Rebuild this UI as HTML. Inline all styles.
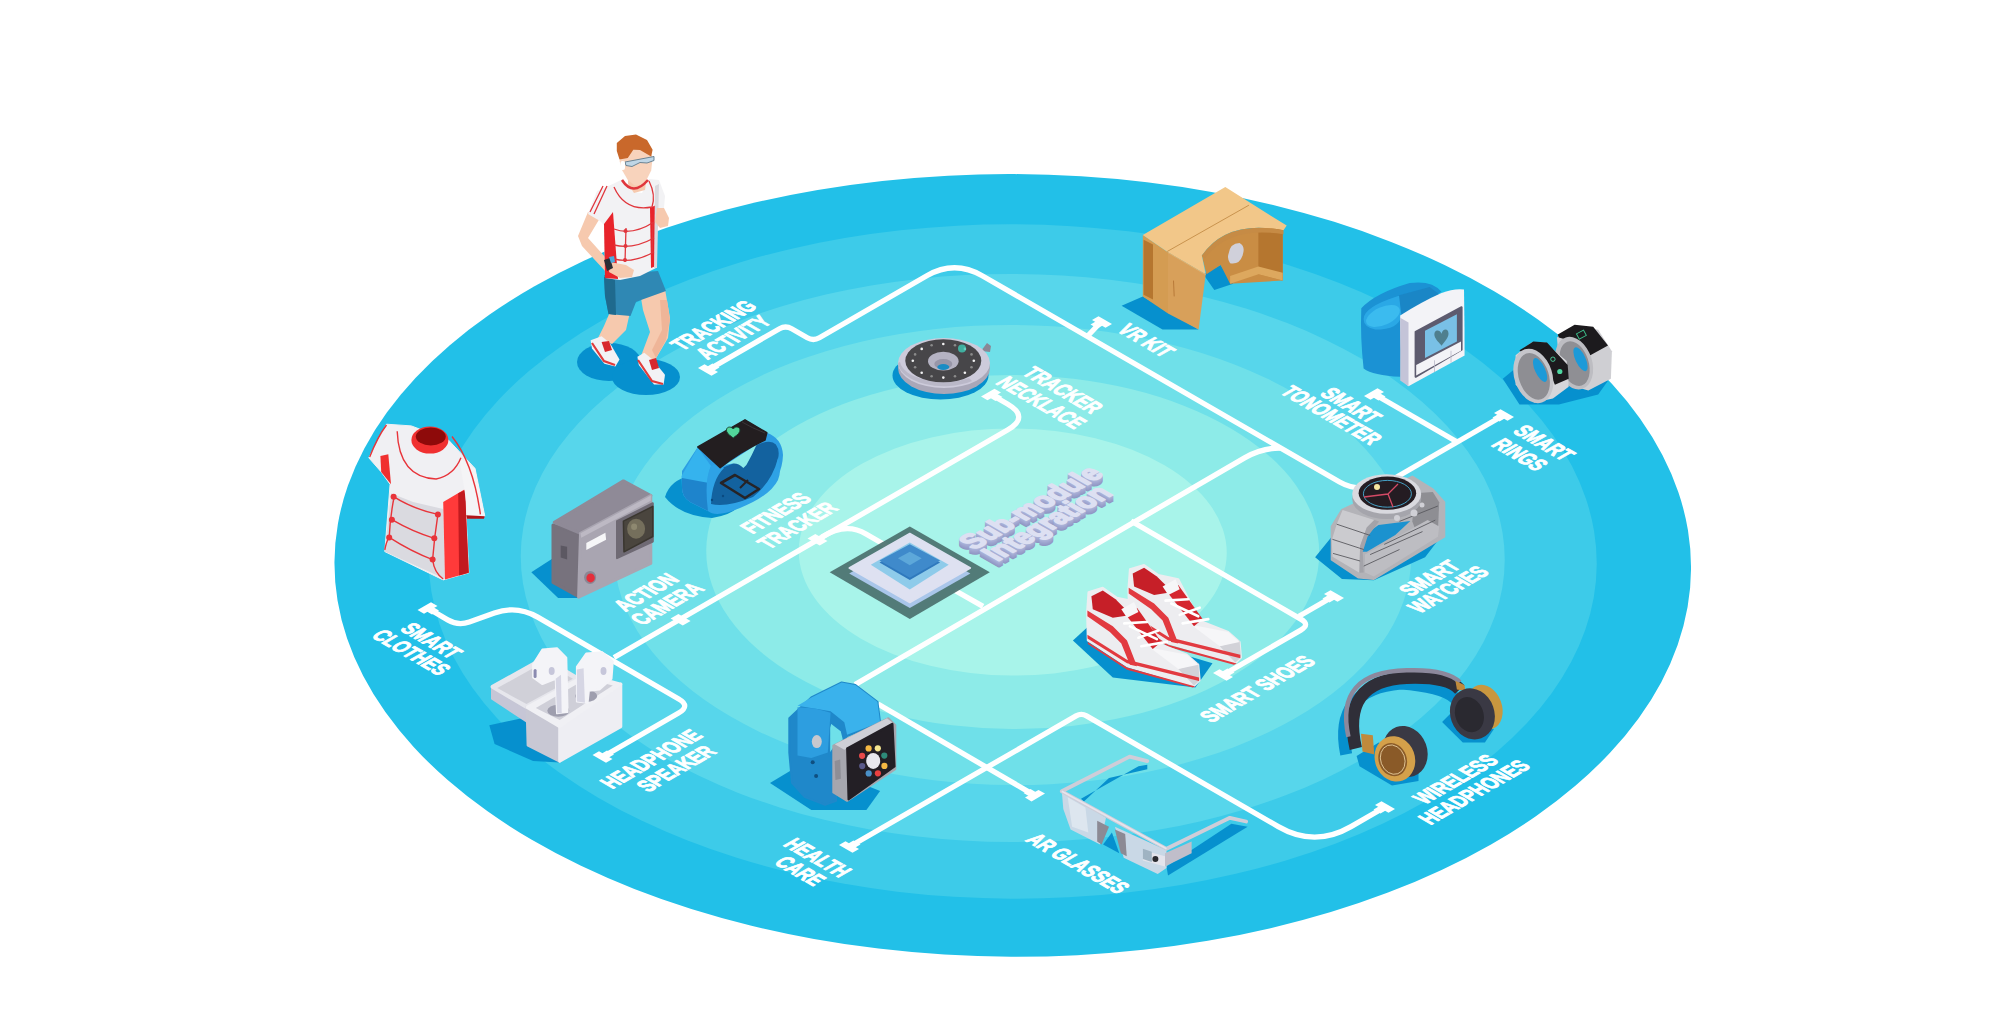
<!DOCTYPE html><html><head><meta charset="utf-8"><style>html,body{margin:0;padding:0;background:#fff;overflow:hidden}svg{display:block}</style></head><body>
<svg width="2000" height="1017" viewBox="0 0 2000 1017" style="font-family:'Liberation Sans', sans-serif">
<rect width="2000" height="1017" fill="#fff"/>
<ellipse cx="1012.75" cy="565.4" rx="678.3" ry="391.3" fill="#22C0E8" transform="rotate(0.28 1012.75 565.4)"/>
<ellipse cx="1012.75" cy="561.5" rx="584.0" ry="337.2" fill="#3DCBE9" transform="rotate(0.28 1012.75 561.5)"/>
<ellipse cx="1012.75" cy="558.0" rx="492.0" ry="284.1" fill="#57D6EB" transform="rotate(0.28 1012.75 558.0)"/>
<ellipse cx="1012.75" cy="555.0" rx="398.5" ry="230.1" fill="#6FE0E9" transform="rotate(0.28 1012.75 555.0)"/>
<ellipse cx="1012.75" cy="552.0" rx="306.5" ry="177.0" fill="#8DEBE8" transform="rotate(0.28 1012.75 552.0)"/>
<ellipse cx="1012.75" cy="552.0" rx="214.0" ry="123.6" fill="#A8F4EA" transform="rotate(0.28 1012.75 552.0)"/>
<g fill="none" stroke="#fff" stroke-width="5.3" stroke-linecap="butt" stroke-linejoin="round">
<path d="M708.0,370.0 L779.5,328.7 Q785.6,325.2 791.7,328.7 L807.3,337.7 Q813.3,341.2 819.4,337.7 L926.8,275.7 Q954.5,259.7 982.2,275.7 L1339.6,482.0 Q1350.0,488.0 1362.0,488.0 L1372.0,488.0"/>
<path d="M1087.0,336.8 L1098.0,325.0"/>
<path d="M1504.0,415.0 L1392.0,479.7"/>
<path d="M1374.0,394.0 L1457.2,442.0"/>
<path d="M855,684.6 L1245,457.6 Q1262,448 1280,448"/>
<path d="M991.0,394.5 L1007.5,404.0 Q1030.0,417.0 1007.5,430.0 L614.0,657.5"/>
<path d="M822,537 Q846,522 866,534 L892,549"/>
<path d="M955,590.5 L983,606.4"/>
<path d="M1131.0,521.0 L1300.8,619.1 Q1310.4,624.6 1300.8,630.1 L1223.0,675.0"/>
<path d="M1334.0,596.0 L1299.0,616.2"/>
<path d="M849.0,847.0 L1076.1,715.9 Q1081.3,712.9 1086.5,715.9 L1278.3,826.6 Q1314.6,847.6 1351.0,826.6 L1385.0,807.0"/>
<path d="M878,704 L1035,795.6"/>
<path d="M427.5,608.0 L447.7,619.9 Q458.0,626.0 469.3,622.0 L494.4,613.0 Q517.0,605.0 537.7,617.1 L678.7,699.0 Q690.8,706.0 678.6,713.0 L602.5,757.0"/>
</g><g fill="#fff">
<path d="M698.0,368.0 L704.5,364.2 L718.0,372.0 L711.5,375.8Z"/><path d="M707.4,366.4 L712.5,363.4 L719.5,367.4 L714.3,370.4Z"/>
<path d="M1098.5,316.2 L1092.0,320.0 L1105.5,327.8 L1112.0,324.0Z"/><path d="M1095.7,321.6 L1090.5,324.6 L1097.5,328.6 L1102.6,325.6Z"/>
<path d="M1500.5,409.2 L1494.0,413.0 L1507.5,420.8 L1514.0,417.0Z"/><path d="M1497.7,414.6 L1492.5,417.6 L1499.5,421.6 L1504.6,418.6Z"/>
<path d="M1377.5,388.2 L1384.0,392.0 L1370.5,399.8 L1364.0,396.0Z"/><path d="M1380.3,393.6 L1385.5,396.6 L1378.5,400.6 L1373.4,397.6Z"/>
<path d="M994.5,388.8 L1001.0,392.5 L987.5,400.2 L981.0,396.5Z"/><path d="M997.3,394.1 L1002.5,397.1 L995.5,401.1 L990.4,398.1Z"/>
<path d="M815.3,534.0 L807.5,538.5 L819.7,545.5 L827.5,541.0Z"/>
<path d="M678.4,614.0 L670.6,618.5 L682.8,625.5 L690.6,621.0Z"/>
<path d="M1213.0,673.0 L1219.5,669.2 L1233.0,677.0 L1226.5,680.8Z"/><path d="M1222.4,671.4 L1227.5,668.4 L1234.5,672.4 L1229.3,675.4Z"/>
<path d="M1330.5,590.2 L1324.0,594.0 L1337.5,601.8 L1344.0,598.0Z"/><path d="M1327.7,595.6 L1322.5,598.6 L1329.5,602.6 L1334.6,599.6Z"/>
<path d="M839.0,845.0 L845.5,841.2 L859.0,849.0 L852.5,852.8Z"/><path d="M848.4,843.4 L853.5,840.4 L860.5,844.4 L855.3,847.4Z"/>
<path d="M1381.5,801.2 L1375.0,805.0 L1388.5,812.8 L1395.0,809.0Z"/><path d="M1378.7,806.6 L1373.5,809.6 L1380.5,813.6 L1385.6,810.6Z"/>
<path d="M1045.0,793.6 L1038.5,789.9 L1025.0,797.6 L1031.5,801.4Z"/><path d="M1035.6,792.0 L1030.5,789.0 L1023.5,793.0 L1028.7,796.0Z"/>
<path d="M431.0,602.2 L437.5,606.0 L424.0,613.8 L417.5,610.0Z"/><path d="M433.8,607.6 L439.0,610.6 L432.0,614.6 L426.9,611.6Z"/>
<path d="M592.5,755.0 L599.0,751.2 L612.5,759.0 L606.0,762.8Z"/><path d="M601.9,753.4 L607.0,750.4 L614.0,754.4 L608.8,757.4Z"/>
</g>
<g>
<g transform="matrix(0.866,-0.5,0.866,0.5,713.1,325.0)"><text transform="scale(0.720,1)" x="0" y="8.4" text-anchor="middle" font-size="23" font-weight="bold" fill="#fff" stroke="#fff" stroke-width="1.1" stroke-linejoin="round">TRACKING</text></g>
<g transform="matrix(0.866,-0.5,0.866,0.5,732.8,337.0)"><text transform="scale(0.720,1)" x="0" y="8.4" text-anchor="middle" font-size="23" font-weight="bold" fill="#fff" stroke="#fff" stroke-width="1.1" stroke-linejoin="round">ACTIVITY</text></g>
<g transform="matrix(0.866,0.5,-0.866,0.5,1063.4,389.7)"><text transform="scale(0.720,1)" x="0" y="8.4" text-anchor="middle" font-size="23" font-weight="bold" fill="#fff" stroke="#fff" stroke-width="1.1" stroke-linejoin="round">TRACKER</text></g>
<g transform="matrix(0.866,0.5,-0.866,0.5,1041.9,402.3)"><text transform="scale(0.720,1)" x="0" y="8.4" text-anchor="middle" font-size="23" font-weight="bold" fill="#fff" stroke="#fff" stroke-width="1.1" stroke-linejoin="round">NECKLACE</text></g>
<g transform="matrix(0.866,0.5,-0.866,0.5,1146.6,340.1)"><text transform="scale(0.720,1)" x="0" y="8.4" text-anchor="middle" font-size="23" font-weight="bold" fill="#fff" stroke="#fff" stroke-width="1.1" stroke-linejoin="round">VR KIT</text></g>
<g transform="matrix(0.866,0.5,-0.866,0.5,1351.4,405.0)"><text transform="scale(0.720,1)" x="0" y="8.4" text-anchor="middle" font-size="23" font-weight="bold" fill="#fff" stroke="#fff" stroke-width="1.1" stroke-linejoin="round">SMART</text></g>
<g transform="matrix(0.866,0.5,-0.866,0.5,1331.8,414.8)"><text transform="scale(0.720,1)" x="0" y="8.4" text-anchor="middle" font-size="23" font-weight="bold" fill="#fff" stroke="#fff" stroke-width="1.1" stroke-linejoin="round">TONOMETER</text></g>
<g transform="matrix(0.866,0.5,-0.866,0.5,1544.5,442.5)"><text transform="scale(0.720,1)" x="0" y="8.4" text-anchor="middle" font-size="23" font-weight="bold" fill="#fff" stroke="#fff" stroke-width="1.1" stroke-linejoin="round">SMART</text></g>
<g transform="matrix(0.866,0.5,-0.866,0.5,1520.3,454.3)"><text transform="scale(0.720,1)" x="0" y="8.4" text-anchor="middle" font-size="23" font-weight="bold" fill="#fff" stroke="#fff" stroke-width="1.1" stroke-linejoin="round">RINGS</text></g>
<g transform="matrix(0.866,-0.5,0.866,0.5,775.4,512.7)"><text transform="scale(0.720,1)" x="0" y="8.4" text-anchor="middle" font-size="23" font-weight="bold" fill="#fff" stroke="#fff" stroke-width="1.1" stroke-linejoin="round">FITNESS</text></g>
<g transform="matrix(0.866,-0.5,0.866,0.5,797.0,525.0)"><text transform="scale(0.720,1)" x="0" y="8.4" text-anchor="middle" font-size="23" font-weight="bold" fill="#fff" stroke="#fff" stroke-width="1.1" stroke-linejoin="round">TRACKER</text></g>
<g transform="matrix(0.866,-0.5,0.866,0.5,645.6,591.9)"><text transform="scale(0.720,1)" x="0" y="8.4" text-anchor="middle" font-size="23" font-weight="bold" fill="#fff" stroke="#fff" stroke-width="1.1" stroke-linejoin="round">ACTION</text></g>
<g transform="matrix(0.866,-0.5,0.866,0.5,666.7,603.5)"><text transform="scale(0.720,1)" x="0" y="8.4" text-anchor="middle" font-size="23" font-weight="bold" fill="#fff" stroke="#fff" stroke-width="1.1" stroke-linejoin="round">CAMERA</text></g>
<g transform="matrix(0.866,0.5,-0.866,0.5,431.8,640.3)"><text transform="scale(0.720,1)" x="0" y="8.4" text-anchor="middle" font-size="23" font-weight="bold" fill="#fff" stroke="#fff" stroke-width="1.1" stroke-linejoin="round">SMART</text></g>
<g transform="matrix(0.866,0.5,-0.866,0.5,411.7,652.1)"><text transform="scale(0.720,1)" x="0" y="8.4" text-anchor="middle" font-size="23" font-weight="bold" fill="#fff" stroke="#fff" stroke-width="1.1" stroke-linejoin="round">CLOTHES</text></g>
<g transform="matrix(0.866,-0.5,0.866,0.5,650.8,758.7)"><text transform="scale(0.720,1)" x="0" y="8.4" text-anchor="middle" font-size="23" font-weight="bold" fill="#fff" stroke="#fff" stroke-width="1.1" stroke-linejoin="round">HEADPHONE</text></g>
<g transform="matrix(0.866,-0.5,0.866,0.5,675.8,768.2)"><text transform="scale(0.720,1)" x="0" y="8.4" text-anchor="middle" font-size="23" font-weight="bold" fill="#fff" stroke="#fff" stroke-width="1.1" stroke-linejoin="round">SPEAKER</text></g>
<g transform="matrix(0.866,0.5,-0.866,0.5,818.0,857.4)"><text transform="scale(0.720,1)" x="0" y="8.4" text-anchor="middle" font-size="23" font-weight="bold" fill="#fff" stroke="#fff" stroke-width="1.1" stroke-linejoin="round">HEALTH</text></g>
<g transform="matrix(0.866,0.5,-0.866,0.5,800.5,870.7)"><text transform="scale(0.720,1)" x="0" y="8.4" text-anchor="middle" font-size="23" font-weight="bold" fill="#fff" stroke="#fff" stroke-width="1.1" stroke-linejoin="round">CARE</text></g>
<g transform="matrix(0.866,0.5,-0.866,0.5,1078.3,863.2)"><text transform="scale(0.720,1)" x="0" y="8.4" text-anchor="middle" font-size="23" font-weight="bold" fill="#fff" stroke="#fff" stroke-width="1.1" stroke-linejoin="round">AR GLASSES</text></g>
<g transform="matrix(0.866,-0.5,0.866,0.5,1429.1,577.8)"><text transform="scale(0.720,1)" x="0" y="8.4" text-anchor="middle" font-size="23" font-weight="bold" fill="#fff" stroke="#fff" stroke-width="1.1" stroke-linejoin="round">SMART</text></g>
<g transform="matrix(0.866,-0.5,0.866,0.5,1447.8,589.2)"><text transform="scale(0.720,1)" x="0" y="8.4" text-anchor="middle" font-size="23" font-weight="bold" fill="#fff" stroke="#fff" stroke-width="1.1" stroke-linejoin="round">WATCHES</text></g>
<g transform="matrix(0.866,-0.5,0.866,0.5,1257.0,688.5)"><text transform="scale(0.720,1)" x="0" y="8.4" text-anchor="middle" font-size="23" font-weight="bold" fill="#fff" stroke="#fff" stroke-width="1.1" stroke-linejoin="round">SMART SHOES</text></g>
<g transform="matrix(0.866,-0.5,0.866,0.5,1455.0,779.0)"><text transform="scale(0.720,1)" x="0" y="8.4" text-anchor="middle" font-size="23" font-weight="bold" fill="#fff" stroke="#fff" stroke-width="1.1" stroke-linejoin="round">WIRELESS</text></g>
<g transform="matrix(0.866,-0.5,0.866,0.5,1473.7,791.9)"><text transform="scale(0.720,1)" x="0" y="8.4" text-anchor="middle" font-size="23" font-weight="bold" fill="#fff" stroke="#fff" stroke-width="1.1" stroke-linejoin="round">HEADPHONES</text></g>
</g>
<path d="M829.7,572.3 L909.8,526.4 L989.8,572.3 L909.8,618.9Z" fill="#4B706E" opacity="0.92"/>
<path d="M849.2,573.4 L909.8,538.8 L970.4,573.4 L909.8,608.0Z" fill="#A9C6EA"/>
<path d="M849.2,568.0 L909.8,533.4 L970.4,568.0 L909.8,602.6Z" fill="#DEE1F1" stroke="#DEE1F1" stroke-width="1.5" stroke-linejoin="round"/>
<path d="M870.8,564.8 L909.8,542.6 L948.7,564.8 L909.8,589.6Z" fill="#8ECBEA"/>
<path d="M879.5,562.6 L909.8,546.4 L940.1,562.6 L909.8,579.9Z" fill="#2F79BD"/>
<path d="M879.5,560.4 L909.8,544.2 L940.1,560.4 L909.8,577.7Z" fill="#3F8ACB"/>
<path d="M897.9,558.3 L909.8,551.8 L921.7,558.3 L909.8,565.3Z" fill="#5DA8DA"/>
<g transform="matrix(0.866,-0.5,0.866,0.5,1030.0,513.0)"><text transform="scale(0.87,1)" x="0" y="11" text-anchor="middle" font-size="30" font-weight="bold" fill="#9097C4" stroke="#9097C4" stroke-width="2.0" stroke-linejoin="round">Sub-module</text></g>
<g transform="matrix(0.866,-0.5,0.866,0.5,1046.0,528.5)"><text transform="scale(0.87,1)" x="0" y="11" text-anchor="middle" font-size="30" font-weight="bold" fill="#9097C4" stroke="#9097C4" stroke-width="2.0" stroke-linejoin="round">Integration</text></g>
<g transform="matrix(0.866,-0.5,0.866,0.5,1030.0,512.0)"><text transform="scale(0.87,1)" x="0" y="11" text-anchor="middle" font-size="30" font-weight="bold" fill="#959CC8" stroke="#959CC8" stroke-width="2.0" stroke-linejoin="round">Sub-module</text></g>
<g transform="matrix(0.866,-0.5,0.866,0.5,1046.0,527.5)"><text transform="scale(0.87,1)" x="0" y="11" text-anchor="middle" font-size="30" font-weight="bold" fill="#959CC8" stroke="#959CC8" stroke-width="2.0" stroke-linejoin="round">Integration</text></g>
<g transform="matrix(0.866,-0.5,0.866,0.5,1030.0,511.0)"><text transform="scale(0.87,1)" x="0" y="11" text-anchor="middle" font-size="30" font-weight="bold" fill="#9AA1CC" stroke="#9AA1CC" stroke-width="2.0" stroke-linejoin="round">Sub-module</text></g>
<g transform="matrix(0.866,-0.5,0.866,0.5,1046.0,526.5)"><text transform="scale(0.87,1)" x="0" y="11" text-anchor="middle" font-size="30" font-weight="bold" fill="#9AA1CC" stroke="#9AA1CC" stroke-width="2.0" stroke-linejoin="round">Integration</text></g>
<g transform="matrix(0.866,-0.5,0.866,0.5,1030.0,510.0)"><text transform="scale(0.87,1)" x="0" y="11" text-anchor="middle" font-size="30" font-weight="bold" fill="#9FA6D0" stroke="#9FA6D0" stroke-width="2.0" stroke-linejoin="round">Sub-module</text></g>
<g transform="matrix(0.866,-0.5,0.866,0.5,1046.0,525.5)"><text transform="scale(0.87,1)" x="0" y="11" text-anchor="middle" font-size="30" font-weight="bold" fill="#9FA6D0" stroke="#9FA6D0" stroke-width="2.0" stroke-linejoin="round">Integration</text></g>
<g transform="matrix(0.866,-0.5,0.866,0.5,1030.0,509.0)"><text transform="scale(0.87,1)" x="0" y="11" text-anchor="middle" font-size="30" font-weight="bold" fill="#A5ACD4" stroke="#A5ACD4" stroke-width="2.0" stroke-linejoin="round">Sub-module</text></g>
<g transform="matrix(0.866,-0.5,0.866,0.5,1046.0,524.5)"><text transform="scale(0.87,1)" x="0" y="11" text-anchor="middle" font-size="30" font-weight="bold" fill="#A5ACD4" stroke="#A5ACD4" stroke-width="2.0" stroke-linejoin="round">Integration</text></g>
<g transform="matrix(0.866,-0.5,0.866,0.5,1030.0,508.0)"><text transform="scale(0.87,1)" x="0" y="11" text-anchor="middle" font-size="30" font-weight="bold" fill="#ABB2D8" stroke="#ABB2D8" stroke-width="2.0" stroke-linejoin="round">Sub-module</text></g>
<g transform="matrix(0.866,-0.5,0.866,0.5,1046.0,523.5)"><text transform="scale(0.87,1)" x="0" y="11" text-anchor="middle" font-size="30" font-weight="bold" fill="#ABB2D8" stroke="#ABB2D8" stroke-width="2.0" stroke-linejoin="round">Integration</text></g>
<g transform="matrix(0.866,-0.5,0.866,0.5,1030.0,507.0)"><text transform="scale(0.87,1)" x="0" y="11" text-anchor="middle" font-size="30" font-weight="bold" fill="#DDE0F2" stroke="#DDE0F2" stroke-width="2.0" stroke-linejoin="round">Sub-module</text></g>
<g transform="matrix(0.866,-0.5,0.866,0.5,1046.0,522.5)"><text transform="scale(0.87,1)" x="0" y="11" text-anchor="middle" font-size="30" font-weight="bold" fill="#DDE0F2" stroke="#DDE0F2" stroke-width="2.0" stroke-linejoin="round">Integration</text></g>
<ellipse cx="940.5" cy="375.5" rx="48" ry="24" fill="#0690CE"/>
<path d="M981,351 L987,343 L991,346 L990,352Z" fill="#8A8896"/>
<ellipse cx="944" cy="368" rx="46" ry="26" fill="#A9A7B8"/>
<ellipse cx="944" cy="363" rx="46" ry="25" fill="#CDCBDB"/>
<path d="M898,363 A46,25 0 0,0 972,381 L969,378 A44,22 0 0,1 900,362Z" fill="#BAB8C8"/>
<ellipse cx="943.3" cy="360.8" rx="38" ry="21.5" fill="#474649"/>
<ellipse cx="943.3" cy="361.2" rx="15.3" ry="9.4" fill="#B5B3C3"/>
<ellipse cx="943.3" cy="364" rx="9" ry="5" fill="#9896A8"/>
<ellipse cx="943.3" cy="367" rx="6" ry="3" fill="#1A8CC4"/>
<circle cx="973.8" cy="360.8" r="1.3" fill="#F2F2F2"/>
<circle cx="971.5" cy="367.2" r="1.3" fill="#8A8A8A"/>
<circle cx="964.9" cy="372.7" r="1.3" fill="#F2F2F2"/>
<circle cx="955.0" cy="376.3" r="1.3" fill="#8A8A8A"/>
<circle cx="943.3" cy="377.6" r="1.3" fill="#F2F2F2"/>
<circle cx="931.6" cy="376.3" r="1.3" fill="#8A8A8A"/>
<circle cx="921.7" cy="372.7" r="1.3" fill="#F2F2F2"/>
<circle cx="915.1" cy="367.2" r="1.3" fill="#8A8A8A"/>
<circle cx="912.8" cy="360.8" r="1.3" fill="#F2F2F2"/>
<circle cx="915.1" cy="354.4" r="1.3" fill="#8A8A8A"/>
<circle cx="921.7" cy="348.9" r="1.3" fill="#F2F2F2"/>
<circle cx="931.6" cy="345.3" r="1.3" fill="#8A8A8A"/>
<circle cx="943.3" cy="344.0" r="1.3" fill="#F2F2F2"/>
<circle cx="955.0" cy="345.3" r="1.3" fill="#8A8A8A"/>
<circle cx="964.9" cy="348.9" r="1.3" fill="#F2F2F2"/>
<circle cx="971.5" cy="354.4" r="1.3" fill="#8A8A8A"/>
<circle cx="962" cy="348.6" r="4" fill="#3FC9B5" opacity="0.8"/>
<path d="M665,497 Q670,480 690,476 L712,482 L742,500 Q738,514 712,518 Q680,516 665,497Z" fill="#0690CE"/>
<path d="M682,471 L697.8,447 L745,419.8 L766.8,432.7 Q782,438 783,455 Q782,478 766,490 L731,509 Q716,514 708,511 L690,502 Q682,497 682,488Z" fill="#2C9DE3"/>
<path d="M681.5,476 L697.8,447.5 L711,466 Q705,480 708,511 L690,502 Q682,497 682,488Z" fill="#35B3EE"/>
<path d="M682,478 L709,483 L708,511 L690,502 Q682,497 682,488Z" fill="#1E84CC"/>
<path d="M709.5,488.7 Q712,470 731.6,464.3 L753.7,446.6 Q770,438 775.9,444.4 Q780,450 778.1,458 Q776,478 753.7,497.5 L727.9,506.4 Q714,508 711,504.2Z" fill="#13629F"/>
<path d="M720.6,468 L756.7,444.4 Q752,455 746.4,465.1 L743.4,468 Q738,463 733.1,463.6 Q726,464 720.6,468Z" fill="#8DEBE8"/>
<path d="M711,466 Q718,462 724,468 Q712,480 711,504 Q726,508 753,497 Q772,482 778,458 Q782,470 778,480 Q770,496 740,508 Q716,518 708,511 Q704,480 711,466Z" fill="#2EA2E6"/>
<path d="M697.8,446.9 L745,419.8 L766.8,432.7 L765,440 Q740,452 720.2,467.6Z" fill="#231E20" stroke="#231E20" stroke-width="1.5" stroke-linejoin="round"/>
<path d="M742,422 Q752,428 765,433" fill="none" stroke="#3A3538" stroke-width="1"/>
<path d="M733.2,429 c-2.5,-3.5 -8,-2 -6.5,2.5 c1,3 4.5,4.5 6.5,6.5 c2,-2 5.5,-3.5 6.5,-6.5 c1.5,-4.5 -4,-6 -6.5,-2.5z" fill="#52D69A" stroke="#163F30" stroke-width="0.9"/>
<path d="M721,483 L735,475 L759,489 L745,498Z" fill="none" stroke="#262326" stroke-width="2.6" stroke-linejoin="round"/>
<path d="M740,488 L748,480" stroke="#262326" stroke-width="2"/>
<circle cx="723" cy="496" r="1.2" fill="#0B4A80"/><circle cx="712" cy="500" r="1.2" fill="#0B4A80"/>
<path d="M531.3,572.3 L553.0,558.2 L579.9,597.9 L558.1,597.9Z" fill="#0690CE"/>
<path d="M553.0,525.0 L579.9,533.9 L578.6,596.6 L553.0,582.5Z" fill="#77727D" stroke="#77727D" stroke-width="3" stroke-linejoin="round"/>
<path d="M554.3,522.4 L623.4,480.9 L650.8,495.6 L580.5,533.3Z" fill="#8F8A97" stroke="#8F8A97" stroke-width="3" stroke-linejoin="round"/>
<path d="M580.5,533.3 L650.8,495.6 L650.8,563.4 L578.6,597.2Z" fill="#A9A5B1" stroke="#A9A5B1" stroke-width="3" stroke-linejoin="round"/>
<path d="M580.5,533.3 L650.8,495.6 L650.8,500.7 L581.2,537.8Z" fill="#BDB9C4"/>
<path d="M617.0,521.2 L652.8,503.2 L652.8,541.6 L617.0,558.2Z" fill="#6F6A74" stroke="#6F6A74" stroke-width="2" stroke-linejoin="round"/>
<path d="M623.4,521.2 L652.8,506.4 L652.8,536.5 L624.0,551.8Z" fill="#4A453E" stroke="#3A362F" stroke-width="1.5" stroke-linejoin="round"/>
<ellipse cx="636.1" cy="528.8" rx="9" ry="10" fill="#756F5C"/>
<ellipse cx="634.1" cy="526.8" rx="3" ry="3.2" fill="#8E8870"/>
<path d="M586.3,542.9 L605.4,532.7 L606.1,539.7 L586.3,549.9Z" fill="#F6F6F8"/>
<path d="M560.7,545.4 L567.1,546.7 L567.1,559.5 L560.7,557.6Z" fill="#5C5862"/>
<ellipse cx="590.1" cy="577.4" rx="6" ry="6.5" fill="#8B8794"/><ellipse cx="590.6" cy="577.9" rx="4.2" ry="4.5" fill="#E52E3A"/>
<path d="M386.5,424.2 L411.3,425.9 L448.5,440.1 L475.0,468.4 L484.8,516.2 L466.2,518.0 L468.8,572.8 L443.2,579.9 L384.8,551.6 L390.1,484.3 L381.2,471.9 L368.8,457.8Z" fill="#F0F0F3" stroke="#F0F0F3" stroke-width="1" stroke-linejoin="round"/>
<path d="M391.0,493.2 L413.1,502.0 L443.2,509.1 L445.0,579.0 L384.8,551.6Z" fill="#DADAE0"/>
<path d="M443.2,502.0 L464.4,489.6 L466.2,518.0 L468.8,572.8 L445.0,579.6Z" fill="#FF3A3A"/>
<path d="M458.2,493.2 L465.3,490.0 L466.2,518.0 L468.8,572.8 L459.1,575.5Z" fill="#C21A1F"/>
<path d="M380.4,456.0 L388.3,454.2 L391.0,484.3 L381.2,471.9Z" fill="#F03030"/>
<path d="M459.1,457.8 L475.0,468.4 L484.8,516.2 L468.0,517.1 L464.4,489.6Z" fill="#F4F4F6"/>
<path d="M466.2,515.3 L484.8,516.2 L483.9,518.8 L467.1,518.8Z" fill="#B21418"/>
<ellipse cx="429.9" cy="440.1" rx="18.5" ry="13.5" fill="#F03030"/>
<ellipse cx="430.8" cy="436.5" rx="15" ry="9" fill="#8E0A0A"/>
<g fill="none" stroke="#E8343A" stroke-width="1.4"><path d="M397.2,431.2 Q398.9,477.3 436.1,479.0 Q453.8,475.5 460.9,457.8"/><path d="M393.6,496.7 Q413.1,509.1 437.9,514.4"/><path d="M391.9,519.7 Q413.1,532.1 434.3,538.3"/><path d="M389.2,537.4 Q411.3,551.6 432.6,559.6"/><path d="M394.5,495.0 Q390.1,516.2 389.2,537.4"/><path d="M437.9,514.4 Q434.3,537.4 432.6,559.6"/><path d="M384.8,549.8 Q386.5,541.0 389.2,537.4"/><path d="M432.6,559.6 Q434.3,572.8 443.2,579.0"/><path d="M452.0,436.5 Q473.3,463.1 480.4,514.4"/><path d="M386.5,425.0 Q377.7,436.5 369.7,456.9"/></g>
<circle cx="393.6" cy="496.7" r="3" fill="#E8343A"/>
<circle cx="391.9" cy="519.7" r="3" fill="#E8343A"/>
<circle cx="389.2" cy="537.4" r="3" fill="#E8343A"/>
<circle cx="437.9" cy="514.4" r="3" fill="#E8343A"/>
<circle cx="434.3" cy="538.3" r="3" fill="#E8343A"/>
<circle cx="432.6" cy="559.6" r="3" fill="#E8343A"/>
<path d="M1121.6,305.8 L1142.8,296.4 L1198.6,329.4 L1162.5,329.4Z" fill="#0690CE"/>
<path d="M1203.3,274.3 L1220.6,264.9 L1233.2,283.8 L1214.3,290.1Z" fill="#0690CE"/>
<path d="M 1201.8,255.5 Q 1230.1,224.0 1282.7,227.2 L 1282.7,280.6 L 1230.1,283.8 L 1220.6,264.9 L 1206.5,274.3 Z" fill="#C98D44"/>
<path d="M1258.4,230.3 L1282.7,227.2 L1282.7,280.6 L1258.4,274.3Z" fill="#B5762F"/>
<path d="M1230.1,283.8 L1258.4,274.3 L1282.7,280.6 L1282.7,272.8 L1258.4,266.5 L1230.1,275.9Z" fill="#DDA85E"/>
<path d="M 1228.5,253.9 Q 1230.1,242.9 1239.5,242.9 Q 1245.8,246.0 1242.6,255.5 Q 1239.5,264.9 1230.1,263.3 Q 1226.9,258.6 1228.5,253.9 Z" fill="#D0D0DA"/>
<path d="M1142.8,235.0 L1168.0,252.3 L1168.0,313.6 L1142.8,296.4Z" fill="#D49C52"/>
<path d="M1143.6,239.7 L1153.0,244.5 L1153.0,299.5 L1143.6,294.8Z" fill="#B5762F"/>
<path d="M1168.0,252.3 L1205.7,274.3 L1198.6,329.4 L1168.0,313.6Z" fill="#D8A05A"/>
<path d="M1173.5,280.6 L1174.2,296.4" fill="none" stroke="#B07030" stroke-width="0.8"/>
<path d="M 1142.8,235.0 L 1225.3,187.1 L 1286.7,225.6 L 1283.5,230.3 Q 1226.9,219.3 1201.8,255.5 L 1205.7,274.3 L 1168.0,252.3 Z" fill="#F2C789"/>
<path d="M 1283.5,230.3 Q 1226.9,219.3 1201.8,255.5 L 1204.9,258.6 Q 1228.5,225.6 1283.5,234.2 Z" fill="#C68B45"/>
<path d="M 1167.2,251.5 L 1248.9,205.2" fill="none" stroke="#C9934E" stroke-width="1"/>
<path d="M 1168.0,252.6 L 1205.7,274.7" fill="none" stroke="#DDB070" stroke-width="1"/>
<path d="M1361.3,308.3 Q1375.4,293.0 1409.7,283.0 Q1432.1,280.0 1441.5,291.8 Q1422.6,303.6 1401.4,315.4 Q1400.8,346.1 1400.2,376.8 Q1373.1,375.6 1363.6,368.5 Q1360.1,336.7 1361.3,308.3Z" fill="#1B92D4"/>
<path d="M1363.6,319.0 Q1363.6,307.2 1396.7,296.5 Q1422.6,288.3 1430.9,293.0 Q1415.6,303.6 1401.4,315.4 Q1399.0,329.6 1375.4,329.6 Q1363.6,327.2 1363.6,319.0Z" fill="#2AA8E6"/>
<ellipse cx="1383" cy="316" rx="18" ry="9" transform="rotate(-24 1383 316)" fill="#3BBBEF"/>
<path d="M1399.0,295.3 L1429.7,287.1 L1439.2,294.2 L1401.4,315.4Z" fill="#1A86C6"/>
<path d="M1400.2,315.4 Q1422.6,301.3 1441.5,293.0 Q1453.3,288.3 1464.0,289.4 Q1464.6,322.5 1464.6,355.6 Q1434.5,372.1 1408.5,386.3 Q1400.2,381.5 1400.2,315.4Z" fill="#F3F3F7"/>
<path d="M1400.2,317.8 L1408.5,322.5 L1408.5,386.3 L1400.2,380.4Z" fill="#C4C4D8"/>
<path d="M1415.6,331.9 L1461.6,307.2 L1461.6,349.7 L1415.6,376.8Z" fill="#5D5B6F" stroke="#5D5B6F" stroke-width="2" stroke-linejoin="round"/>
<path d="M1416.2,365.0 L1461.0,341.4 L1461.0,350.8 L1416.2,375.6Z" fill="#F3F3F7"/>
<path d="M1425.0,330.8 L1456.9,314.2 L1456.9,341.4 L1425.0,357.9Z" fill="#79C0E6"/>
<path d="M1441.5,333.7 c-2,-5 -8,-4 -7,2 c1,4 5,7 7,10 c3,-4 7,-8 7,-12 c0,-6 -6,-5 -7,0z" fill="#4F7F8E"/>
<path d="M1434.5,360.3 L1434.5,372.1 M1451.0,350.8 L1451.0,362.6" stroke="#B8B8C8" stroke-width="0.8"/>
<path d="M1502.8,378.8 L1519.5,365.1 L1558.8,369.0 L1588.3,378.8 L1608.0,380.8 L1598.2,394.6 L1558.8,404.4 L1519.5,404.4Z" fill="#0690CE"/>
<path d="M1556.9,337.5 L1574.6,325.7 L1598.2,329.7 L1611.9,351.3 L1610.9,378.8 L1588.3,390.6 L1575.5,386.7 L1558.8,359.2Z" fill="#CFCFD3"/>
<path d="M1557.8,334.6 L1574.6,324.7 L1593.2,326.7 L1608.0,345.4 L1590.3,355.2 L1576.5,342.4 L1558.8,337.5Z" fill="#1C1A1D"/>
<ellipse cx="1574.1" cy="363.1" rx="18" ry="27" transform="rotate(-18 1574.1 363.1)" fill="#BDBDC2"/>
<ellipse cx="1574.6" cy="363.6" rx="14" ry="23" transform="rotate(-18 1574.6 363.6)" fill="#8F8F94"/>
<ellipse cx="1580.5" cy="359.2" rx="5" ry="13" transform="rotate(-25 1580.5 359.2)" fill="#1C9AD8"/>
<path d="M1515.6,355.2 L1531.3,342.4 L1545.1,342.4 L1566.7,361.1 L1568.7,386.7 L1552.9,398.5 L1534.2,402.4 L1515.6,384.7Z" fill="#D6D6DA"/>
<path d="M1519.5,350.3 L1533.3,341.5 L1547.0,342.4 L1567.7,365.1 L1568.7,378.8 L1554.9,384.7 L1543.1,357.2 L1522.4,353.3Z" fill="#1C1A1D"/>
<ellipse cx="1533.3" cy="375.9" rx="19" ry="28" transform="rotate(-18 1533.3 375.9)" fill="#C5C5CA"/>
<ellipse cx="1533.8" cy="376.4" rx="15" ry="24" transform="rotate(-18 1533.8 376.4)" fill="#8E8E93"/>
<ellipse cx="1540.1" cy="370.0" rx="5" ry="13" transform="rotate(-25 1540.1 370.0)" fill="#1C9AD8"/>
<circle cx="1559.8" cy="371.5" r="2.6" fill="#4DD6A0"/>
<circle cx="1552.9" cy="359.2" r="2.2" fill="none" stroke="#4DD6A0" stroke-width="0.9"/>
<rect x="1577.4" y="331.6" width="8" height="6" fill="none" stroke="#3CC08C" stroke-width="0.9" transform="rotate(-28 1581.4 334.6)"/>
<path d="M1315.1,557.2 L1331.7,536.7 L1386.7,536.7 L1441.7,535.4 L1425.1,557.2 L1373.9,580.2 L1342.0,578.9Z" fill="#0690CE"/>
<path d="M1331.7,526.5 L1342.0,509.9 L1412.3,476.6 L1432.8,489.4 L1444.3,502.2 L1444.3,536.7 L1373.9,578.9 L1358.6,577.6 L1331.7,559.7Z" fill="#B3B3B8" stroke="#B3B3B8" stroke-width="2" stroke-linejoin="round"/>
<path d="M1414.9,493.2 L1432.8,492.0 L1439.2,502.2 L1437.9,531.6 L1420.0,541.8 L1412.3,521.4Z" fill="#8E8E93"/>
<path d="M1365.0,554.6 L1427.6,520.1 L1439.2,526.5 L1437.9,536.7 L1373.9,576.4 L1365.0,572.5Z" fill="#BDBDC2"/>
<path d="M1361.8,551.8 L1366.8,533.4 L1378.5,525.1 L1410.3,520.9 L1395.3,535.1 L1366.8,551.8Z" fill="#1B92CF"/>
<path d="M1342.6,510.0 L1374.3,520.1 L1366.8,527.5 L1360.1,545.9 L1359.4,572.8 L1332.5,556.8 L1331.7,540.2 L1336.7,524.2Z" fill="#CBCBCF"/>
<path d="M1366.8,527.5 L1374.3,520.1 L1379.1,521.4 L1367.5,536.7 L1362.7,552.1 L1363.7,572.5 L1359.4,572.8 L1360.1,545.9Z" fill="#A3A3A9"/>
<g stroke="#5A5A60" stroke-width="0.9"><line x1="1336.7" y1="524.2" x2="1370.1" y2="535.4"/><line x1="1332.4" y1="539.3" x2="1363.7" y2="549.5"/><line x1="1333.0" y1="553.4" x2="1360.1" y2="561.0"/><line x1="1384.2" y1="544.4" x2="1435.3" y2="520.1"/><line x1="1370.1" y1="554.6" x2="1422.5" y2="531.6"/><line x1="1363.7" y1="566.1" x2="1399.5" y2="549.5"/><line x1="1399.5" y1="521.4" x2="1437.9" y2="506.0"/></g>
<ellipse cx="1386.7" cy="499" rx="34.5" ry="20" fill="#A5A5AC"/>
<ellipse cx="1386.7" cy="494" rx="34.5" ry="19.8" fill="#D9D9DF"/>
<ellipse cx="1387.4" cy="493.2" rx="28.8" ry="16.6" fill="#241C22"/>
<ellipse cx="1387.4" cy="493.8" rx="24" ry="13.4" fill="none" stroke="#48AED6" stroke-width="0.9"/>
<path d="M1388,494 L1398,484 M1388,494 L1364,497 M1388,494 L1393,507" stroke="#D44A66" stroke-width="1.3"/>
<circle cx="1377" cy="487" r="3" fill="#F5E6A0"/>
<circle cx="1397" cy="518" r="3" fill="#D0D0D6"/><circle cx="1414" cy="513" r="3.5" fill="#D0D0D6"/><circle cx="1422" cy="505" r="2.5" fill="#D0D0D6"/>
<path d="M1072.9,640.5 L1088.5,626.3 L1212.5,663.3 L1195.4,687.6 L1112.8,677.6Z" fill="#0690CE"/>
<path d="M1129.9,569.3 L1144.1,565.0 L1158.4,575.0 L1178.3,579.2 L1199.7,620.6 L1228.2,632.0 L1239.6,641.9 L1241.0,657.6 L1235.3,663.3 L1168.3,643.4 L1129.2,617.7 L1128.4,589.2Z" fill="#EDEDF0" stroke="#EDEDF0" stroke-width="2" stroke-linejoin="round"/>
<path d="M1219.7,646.2 L1239.6,640.5 L1241.0,657.6 L1235.3,662.6Z" fill="#D2D2D8"/>
<path d="M1191.2,624.8 L1228.2,632.0 L1239.6,641.9 L1219.7,646.2Z" fill="#F6F6F8"/>
<path d="M1128.7,612.0 L1168.3,637.0 L1240.3,654.8 L1240.3,658.3 L1168.3,640.5 L1128.9,615.6Z" fill="#E23A40"/>
<path d="M1129.2,619.1 L1168.3,644.8 L1236.8,663.6 L1233.9,664.7 L1168.3,646.9 L1129.2,621.3Z" fill="#E23A40"/>
<path d="M1128.7,587.8 L1154.1,603.5 L1168.3,617.7 L1178.3,643.4 L1171.2,641.9 L1162.6,620.6 L1151.2,609.2 L1128.7,593.5Z" fill="#E23A40"/>
<path d="M1132.7,573.5 L1144.1,567.8 L1156.9,576.4 L1172.6,592.1 L1154.1,594.9 L1134.1,586.4Z" fill="#C61F28"/>
<path d="M1168.3,593.5 L1178.3,584.9 L1202.6,619.1 L1194.0,626.3Z" fill="#D5262E"/>
<path d="M1162.6,586.4 L1175.5,579.2 L1179.7,589.2 L1168.3,594.9Z" fill="#F6F6F8"/>
<g stroke="#FFFFFF" stroke-width="2.6" stroke-linecap="round"><line x1="1165.5" y1="600.6" x2="1188.3" y2="599.2"/><line x1="1171.2" y1="603.5" x2="1198.3" y2="616.3"/><line x1="1179.7" y1="614.9" x2="1199.7" y2="607.7"/><line x1="1182.6" y1="623.4" x2="1208.3" y2="619.1"/></g>
<path d="M1088.5,592.1 L1102.8,587.8 L1117.0,597.8 L1137.0,602.0 L1158.4,643.4 L1186.9,654.8 L1198.3,664.7 L1199.7,680.4 L1194.0,686.1 L1127.0,666.2 L1087.8,640.5 L1087.1,612.0Z" fill="#EDEDF0" stroke="#EDEDF0" stroke-width="2" stroke-linejoin="round"/>
<path d="M1178.3,669.0 L1198.3,663.3 L1199.7,680.4 L1194.0,685.4Z" fill="#D2D2D8"/>
<path d="M1149.8,647.6 L1186.9,654.8 L1198.3,664.7 L1178.3,669.0Z" fill="#F6F6F8"/>
<path d="M1087.4,634.8 L1127.0,659.8 L1199.0,677.6 L1199.0,681.1 L1127.0,663.3 L1087.5,638.4Z" fill="#E23A40"/>
<path d="M1087.8,641.9 L1127.0,667.6 L1195.4,686.4 L1192.6,687.6 L1127.0,669.7 L1087.8,644.1Z" fill="#E23A40"/>
<path d="M1087.4,610.6 L1112.8,626.3 L1127.0,640.5 L1137.0,666.2 L1129.9,664.7 L1121.3,643.4 L1109.9,632.0 L1087.4,616.3Z" fill="#E23A40"/>
<path d="M1091.4,596.3 L1102.8,590.6 L1115.6,599.2 L1131.3,614.9 L1112.8,617.7 L1092.8,609.2Z" fill="#C61F28"/>
<path d="M1127.0,616.3 L1137.0,607.7 L1161.2,641.9 L1152.7,649.1Z" fill="#D5262E"/>
<path d="M1121.3,609.2 L1134.1,602.0 L1138.4,612.0 L1127.0,617.7Z" fill="#F6F6F8"/>
<g stroke="#FFFFFF" stroke-width="2.6" stroke-linecap="round"><line x1="1124.2" y1="623.4" x2="1147.0" y2="622.0"/><line x1="1129.9" y1="626.3" x2="1156.9" y2="639.1"/><line x1="1138.4" y1="637.7" x2="1158.4" y2="630.5"/><line x1="1141.3" y1="646.2" x2="1166.9" y2="641.9"/></g>
<path d="M1346.2,754.4 Q1333.0,689.5 1400.8,683.6 Q1442.1,686.6 1455.4,698.4" fill="none" stroke="#0690CE" stroke-width="12"/>
<path d="M1356.6,755.9 L1378.7,742.6 L1418.5,763.3 L1418.5,781.0 L1392.0,785.4 L1359.5,766.2Z" fill="#0690CE"/>
<path d="M1442.1,722.0 L1459.8,704.3 L1493.8,729.3 L1484.9,742.6 L1462.8,742.6Z" fill="#0690CE"/>
<path d="M1355.8,748.5 Q1340.3,680.7 1406.7,677.7 Q1448.0,676.2 1459.8,689.5" fill="none" stroke="#2F2E38" stroke-width="12.5"/>
<path d="M1348.4,736.7 Q1334.4,671.8 1406.7,670.3 Q1446.6,668.9 1459.8,682.1" fill="none" stroke="#8C889C" stroke-width="4.5"/>
<path d="M1361.0,733.8 L1372.8,735.2 L1374.3,754.4 L1362.5,751.5Z" fill="#C08A3C"/>
<path d="M1455.4,680.7 L1464.3,685.1 L1465.7,691.0 L1456.9,689.5Z" fill="#C08A3C"/>
<ellipse cx="1484.9" cy="707.2" rx="17" ry="23" transform="rotate(-20 1484.9 707.2)" fill="#C8973F"/>
<ellipse cx="1472.4" cy="713.9" rx="22" ry="26" transform="rotate(-20 1472.4 713.9)" fill="#3A3944"/>
<ellipse cx="1469.4" cy="714.6" rx="14" ry="18" transform="rotate(-20 1469.4 714.6)" fill="#2A2930"/>
<ellipse cx="1405.2" cy="751.5" rx="22" ry="26" transform="rotate(-20 1405.2 751.5)" fill="#3A3944"/>
<ellipse cx="1394.9" cy="758.8" rx="20" ry="23" transform="rotate(-20 1394.9 758.8)" fill="#D4A04A"/>
<ellipse cx="1392.7" cy="759.6" rx="14" ry="17" transform="rotate(-20 1392.7 759.6)" fill="#8A5A28"/>
<ellipse cx="1392.7" cy="759.6" rx="12" ry="15" transform="rotate(-20 1392.7 759.6)" fill="none" stroke="#E8CFA0" stroke-width="0.8"/>
<path d="M1081.0,798.7 L1138.5,766.2 L1147.3,764.7 L1147.3,769.2 L1109.0,778.0 L1083.9,801.6Z" fill="#0690CE"/>
<path d="M1166.5,866.5 L1231.4,823.7 L1247.6,826.7 L1168.0,875.4Z" fill="#0690CE"/>
<path d="M1103.1,844.4 L1111.9,832.6 L1119.3,853.2Z" fill="#0690CE"/>
<path d="M1061.8,791.3 L1106.0,817.8 L1100.1,844.4 L1070.6,829.6 L1063.3,809.0Z" fill="#C9D8E6"/>
<path d="M1067.7,797.2 L1085.4,807.5 L1088.3,832.6 L1072.1,826.7Z" fill="#DDE6EF"/>
<path d="M1114.9,826.7 L1166.5,850.3 L1166.5,868.0 L1157.7,873.9 L1123.7,857.7Z" fill="#C9D8E6"/>
<path d="M1097.2,820.8 L1109.0,826.7 L1101.6,844.4 L1097.2,841.4Z" fill="#8C8A94"/>
<path d="M1114.9,829.6 L1125.2,834.1 L1126.7,856.2 L1120.8,853.2Z" fill="#8C8A94"/>
<path d="M1165.0,853.2 L1191.6,841.4 L1191.6,853.2 L1165.0,866.5Z" fill="#C0BECA"/>
<path d="M1142.9,850.3 L1165.0,856.2 L1165.0,866.5 L1142.9,860.6Z" fill="#E4E4EC"/>
<path d="M1142.9,848.8 L1151.8,851.8 L1151.8,862.1 L1142.9,859.1Z" fill="#9FB3C2"/>
<circle cx="1155.4" cy="859.1" r="3" fill="#2B2B30"/>
<path d="M1147.3,761.1 L1129.6,756.6 L1061.8,791.3 L1166.5,848.8 L1229.9,817.8 L1246.1,821.5" fill="none" stroke="#CFCDD8" stroke-width="3.8" stroke-linejoin="round" stroke-linecap="round"/>
<path d="M1061.8,791.3 L1166.5,848.8" fill="none" stroke="#E6E4EC" stroke-width="1.6"/>
<path d="M770.0,782.9 L797.5,766.4 L852.6,780.1 L880.1,791.1 L866.4,810.0 L811.3,810.0Z" fill="#0690CE"/>
<path d="M789.3,718.2 L811.3,697.5 L841.6,682.4 L855.4,685.1 L877.4,701.7 L880.1,722.3 L847.1,736.1 L834.7,749.8 L836.1,800.8 L825.1,804.9 L804.4,796.7 L792.0,782.9 L789.3,752.6ZM830.6,722.3 L841.6,730.6 L844.3,741.6 L834.7,747.1 L829.2,755.4 L829.2,727.8Z" fill="#1F88CA" fill-rule="evenodd" stroke="#1F88CA" stroke-width="2" stroke-linejoin="round"/>
<path d="M797.5,705.8 L811.3,697.5 L841.6,682.4 L855.4,685.1 L877.4,701.7 L880.1,722.3 L847.1,734.7 L844.3,722.3 L830.6,711.3 L814.1,708.5Z" fill="#3AB2EC"/>
<path d="M797.5,707.2 L815.4,708.5 L830.6,712.7 L827.8,752.6 L811.3,758.1 L797.5,755.4Z" fill="#2D9EE0"/>
<ellipse cx="816.8" cy="741.6" rx="5" ry="6.5" fill="#C8C8CE"/>
<circle cx="812.7" cy="762.2" r="2" fill="#0F4F80"/>
<circle cx="816.1" cy="776.0" r="2" fill="#0F4F80"/>
<path d="M833.3,745.7 L888.4,718.2 L895.3,725.1 L895.3,769.1 L847.1,800.8 L833.3,792.5Z" fill="#A6A6AE" stroke="#A6A6AE" stroke-width="2" stroke-linejoin="round"/>
<path d="M834.7,744.3 L887.0,718.2 L893.9,723.7 L844.3,749.8Z" fill="#CFCFD6"/>
<path d="M847.1,748.5 L892.5,723.7 L894.6,766.4 L848.5,799.4Z" fill="#231F25" stroke="#231F25" stroke-width="2" stroke-linejoin="round"/>
<path d="M834.7,760.9 L840.2,759.5 L840.9,778.8 L835.4,780.1Z" fill="#8E8E96"/>
<circle cx="868.6" cy="748.4" r="3.1" fill="#F5B843"/>
<circle cx="877.8" cy="748.3" r="3.1" fill="#F5E690"/>
<circle cx="884.3" cy="755.6" r="3.1" fill="#2E8A7A"/>
<circle cx="884.4" cy="765.9" r="3.1" fill="#F5B843"/>
<circle cx="877.9" cy="773.3" r="3.1" fill="#E84040"/>
<circle cx="868.7" cy="773.4" r="3.1" fill="#4A90C8"/>
<circle cx="862.2" cy="766.1" r="3.1" fill="#5A5A8A"/>
<circle cx="862.1" cy="755.8" r="3.1" fill="#E84A4A"/>
<ellipse cx="873.2" cy="760.9" rx="7" ry="8" fill="#E8E8EE"/>
<path d="M489.3,725.3 L526.5,717.3 L559.7,762.5 L533.1,761.1 L494.6,743.9Z" fill="#0690CE"/>
<path d="M492.0,688.1 L492.0,698.7 L526.5,721.3 L526.5,709.4Z" fill="#C6C6D6" stroke="#C6C6D6" stroke-width="2" stroke-linejoin="round"/>
<path d="M492.6,686.8 L543.7,658.2 L578.3,678.8 L527.1,707.4Z" fill="#E6E6EC" stroke="#E6E6EC" stroke-width="4" stroke-linejoin="round"/>
<path d="M497.3,688.1 L543.7,662.2 L572.9,678.8 L526.5,704.0Z" fill="#D0D0D8"/>
<path d="M527.1,707.4 L559.7,726.6 L559.7,761.1 L528.1,745.2Z" fill="#C8C8D4" stroke="#C8C8D4" stroke-width="3" stroke-linejoin="round"/>
<path d="M559.7,726.6 L620.8,684.1 L620.8,726.6 L559.7,761.1Z" fill="#EEEEF3" stroke="#EEEEF3" stroke-width="3" stroke-linejoin="round"/>
<path d="M527.1,707.4 L586.2,674.8 L620.8,684.1 L559.7,726.6Z" fill="#F0F0F4" stroke="#F0F0F4" stroke-width="3" stroke-linejoin="round"/>
<path d="M535.8,708.0 L586.2,678.8 L612.8,685.5 L559.7,720.0Z" fill="#CFCFD8"/>
<ellipse cx="558.3" cy="710.7" rx="11" ry="6" fill="#9E9EAE"/>
<ellipse cx="586.2" cy="696.1" rx="11" ry="6" fill="#9E9EAE"/>
<path d="M533.1,664.2 L542.4,649.6 L557.0,648.3 L566.3,657.6 L567.6,712.0 L557.0,713.3 L555.7,678.8 L542.4,684.1 L533.1,677.5Z" fill="#F4F4F8" stroke="#F4F4F8" stroke-width="2" stroke-linejoin="round"/>
<path d="M555.7,678.8 L561.0,674.8 L561.7,713.3 L557.0,713.3Z" fill="#D6D6E4"/>
<path d="M576.9,666.9 L586.2,653.6 L602.2,652.3 L612.8,661.6 L611.5,678.8 L599.5,689.4 L588.9,690.8 L587.6,702.7 L576.9,701.4Z" fill="#F4F4F8" stroke="#F4F4F8" stroke-width="2" stroke-linejoin="round"/>
<path d="M576.9,669.5 L583.6,668.2 L584.9,702.7 L576.9,701.4Z" fill="#D6D6E4"/>
<ellipse cx="551.7" cy="670.9" rx="3" ry="4" fill="#C6C6DA"/>
<ellipse cx="603.5" cy="670.9" rx="3" ry="4" fill="#C6C6DA"/>
<rect x="533.6" y="669.0" width="3" height="9" rx="1.5" fill="#8A8AB0"/>
<ellipse cx="609" cy="362" rx="32" ry="19" fill="#0690CE"/>
<ellipse cx="646" cy="377" rx="34" ry="18" fill="#0690CE"/>
<path d="M610.0,312.0 L630.0,312.0 L626.0,330.0 L612.0,344.0 L598.0,338.0 L604.0,326.0Z" fill="#F6C9AE"/>
<path d="M640.0,292.0 L665.0,289.0 L670.0,318.0 L668.0,338.0 L655.0,360.0 L641.0,356.0 L650.0,332.0 L643.0,310.0Z" fill="#F6C9AE"/>
<path d="M660.0,300.0 L667.0,300.0 L670.0,320.0 L666.0,340.0 L656.0,358.0 L652.0,350.0 L662.0,330.0Z" fill="#EFB598"/>
<path d="M604.0,275.0 L658.0,271.0 L666.0,291.0 L641.0,300.0 L636.0,302.0 L630.5,316.0 L608.5,314.0 L605.0,296.0Z" fill="#2F88B4"/>
<path d="M604.0,277.0 L615.0,280.0 L616.0,315.0 L608.5,314.0 L605.0,296.0Z" fill="#1F6A8E"/>
<path d="M590.6,340.3 L601.6,336.2 L609.9,343.0 L619.5,359.6 L615.4,366.5 L604.4,363.7 L592.0,348.6Z" fill="#F2F2F5"/>
<path d="M592,343 L604,361 L615,365" fill="none" stroke="#E03C3C" stroke-width="2.2"/>
<path d="M601.6,342.0 L609.0,341.0 L612.0,350.0 L605.0,352.0Z" fill="#D8282E"/>
<path d="M637.4,356.8 L644.3,352.7 L652.6,359.6 L665.0,374.7 L663.6,384.4 L654.0,384.4 L638.8,365.0Z" fill="#F2F2F5"/>
<path d="M638,360 L652,381 L663,384" fill="none" stroke="#E03C3C" stroke-width="2.2"/>
<path d="M649.0,360.0 L656.0,358.0 L659.0,368.0 L652.0,370.0Z" fill="#D8282E"/>
<path d="M588.0,212.0 L600.0,218.0 L588.0,238.0 L606.0,258.0 L612.0,266.0 L606.0,272.0 L582.0,246.0 L578.0,236.0Z" fill="#F6C9AE"/>
<path d="M588.0,214.0 L597.0,191.0 L615.0,183.0 L623.0,179.0 L634.0,192.0 L642.0,193.0 L649.0,179.0 L659.0,180.0 L665.0,196.0 L664.0,208.0 L657.0,208.0 L656.0,268.0 L640.0,276.0 L620.0,280.0 L605.0,278.0 L604.0,225.0 L600.0,221.0Z" fill="#F2F2F4"/>
<path d="M604.0,224.0 L613.0,212.0 L618.0,279.0 L605.0,278.0Z" fill="#E8242B"/>
<path d="M650.0,208.0 L656.0,205.0 L656.0,266.0 L651.0,268.0Z" fill="#E8242B"/>
<path d="M655.0,186.0 L659.0,184.0 L657.0,268.0 L654.0,268.0Z" fill="#D9D9DE"/>
<g fill="none" stroke="#E0363C" stroke-width="1.3"><path d="M590,212 L603,186 M594,214 L607,186"/><path d="M614,187 Q625,212 652,207 Q656,195 649,181"/><path d="M614,229 Q632,236 654,222 M614,245 Q632,250 654,238 M614,259 Q632,264 654,252 M626,228 L625,262 M653,222 L652,254"/></g>
<g fill="#E0363C"><circle cx="625.5" cy="231" r="2"/><circle cx="625.5" cy="246" r="2"/><circle cx="625" cy="260" r="2"/></g>
<path d="M628.0,176.0 L647.0,176.0 L645.0,190.0 L634.0,193.0 L628.0,184.0Z" fill="#F6C9AE"/>
<path d="M626.4,148.4 L649.8,151.1 L652.6,158.0 L651.2,170.4 L647.1,178.7 L641.6,185.5 L634.7,185.5 L627.8,180.0 L622.3,170.4 L619.5,160.8Z" fill="#F8D3BC"/>
<path d="M616.8,142.9 L625.0,136.0 L636.0,134.6 L647.0,140.1 L652.6,149.8 L651.2,156.6 L640.0,150.0 L633.3,149.8 L627.8,158.0 L619.5,159.4 L616.8,151.1Z" fill="#C9682B"/>
<path d="M622,180 Q633,197 648,180" fill="none" stroke="#E0363C" stroke-width="2.6"/>
<path d="M625,162 L654,156.5 L654,160.5 L647,163 L640,162.5 L632,166.5 L626,165.5Z" fill="#BFD6E6" stroke="#5F7A8C" stroke-width="0.9"/>
<rect x="620.5" y="161" width="4.5" height="9" rx="2" fill="#fff"/>
<path d="M657.0,208.0 L664.0,208.0 L669.0,218.0 L668.0,226.0 L660.0,228.0 L655.0,222.0Z" fill="#F6C9AE"/>
<path d="M610.0,262.0 L626.0,265.0 L634.0,270.0 L632.0,277.0 L620.0,278.0 L609.0,272.0Z" fill="#F6C9AE"/>
<path d="M604.0,260.0 L610.0,258.0 L613.0,268.0 L607.0,271.0Z" fill="#2B2E35"/>
<path d="M609.0,257.0 L614.0,256.0 L615.0,262.0 L611.0,263.0Z" fill="#4AA8DC"/>
</svg></body></html>
